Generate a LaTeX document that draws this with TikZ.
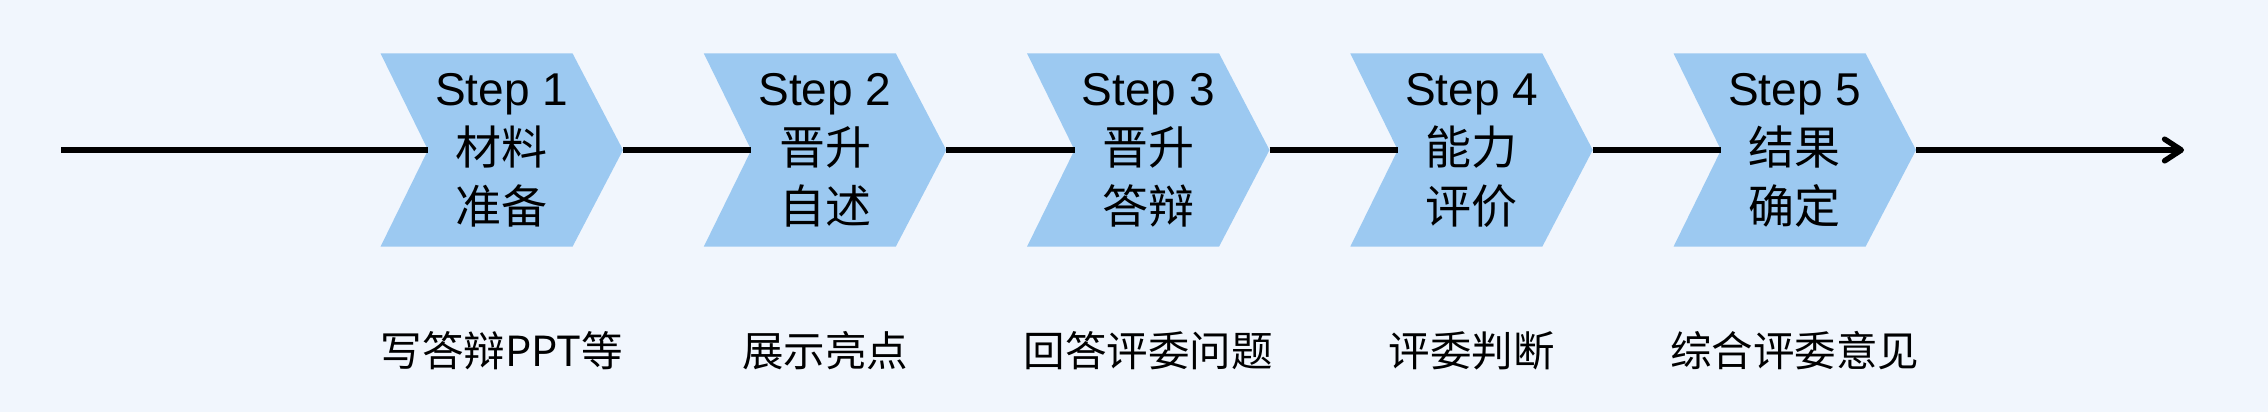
\documentclass[tikz,border=0pt]{standalone}
\usepackage{fontspec}
\setmainfont{Liberation Sans}
\newfontfamily\cjk{Noto Sans CJK SC}
\usetikzlibrary{arrows.meta}
\definecolor{bgcol}{HTML}{F1F6FD}
\definecolor{chevcol}{HTML}{9CC9F1}
\begin{document}
\begin{tikzpicture}[x=0.3pt,y=-0.3pt,
  chevfill/.style={fill=chevcol},
  steptext/.style={align=center, inner sep=0pt, font=\fontsize{13.8}{17.7}\selectfont},
  labeltext/.style={inner sep=0pt, font=\fontsize{12.45}{15}\selectfont\cjk},
  conn/.style={line width=1.65pt, draw=black},
  arrowconn/.style={conn, -{Straight Barb[length=5pt, width=6.5pt, line cap=round, line join=round]}}]
\fill[bgcol] (0,0) rectangle (2268,412);
\useasboundingbox (0,0) rectangle (2268,412);
\coordinate (start) at (61,150);
\coordinate (end) at (2184,150);
\foreach \i/\la/\lb/\lc in {1/材料/准备/写答辩PPT等, 2/晋升/自述/展示亮点, 3/晋升/答辩/回答评委问题, 4/能力/评价/评委判断, 5/结果/确定/综合评委意见}{
  \pgfmathsetmacro{\x}{380.5+323.25*(\i-1)}
  \fill[chevfill] (\x,53.3) -- (\x+192,53.3) -- (\x+242.5,150) -- (\x+192,246.7) -- (\x,246.7) -- (\x+47.5,150) -- cycle;
  \coordinate (notch\i) at (\x+47.5,150);
  \coordinate (tip\i) at (\x+242.5,150);
  \node[steptext] (step\i) at (\x+121.25,150) {Step \i\\{\cjk \la}\\{\cjk \lb}};
  \node[labeltext] (label\i) at (\x+121.25,351) {\lc};
}
\draw[conn] (start) -- (notch1);
\draw[conn] (tip1) -- (notch2);
\draw[conn] (tip2) -- (notch3);
\draw[conn] (tip3) -- (notch4);
\draw[conn] (tip4) -- (notch5);
\draw[arrowconn] (tip5) -- (end);
\end{tikzpicture}
\end{document}
